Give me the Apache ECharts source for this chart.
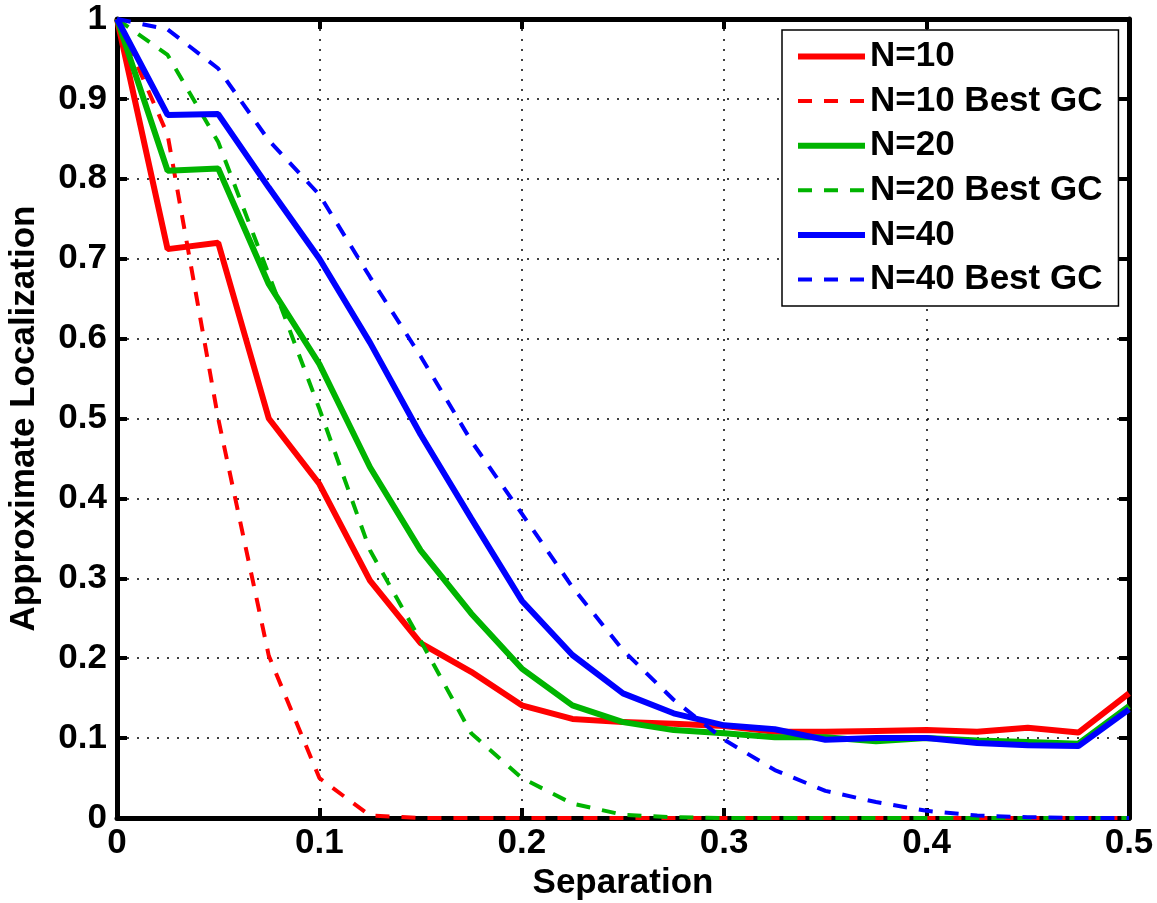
<!DOCTYPE html>
<html>
<head>
<meta charset="utf-8">
<script src="https://cdn.jsdelivr.net/npm/echarts@6/dist/echarts.min.js"></script>
<style>
html,body{margin:0;padding:0;background:#fff;}
#chart{width:1157px;height:903px;}
</style>
</head>
<body>
<div id="chart"></div>
<script>
const separation = [0, 0.025, 0.05, 0.075, 0.1, 0.125, 0.15, 0.175, 0.2, 0.225, 0.25, 0.275, 0.3, 0.325, 0.35, 0.375, 0.4, 0.425, 0.45, 0.475, 0.5];
const n10      = [1.0, 0.712, 0.72, 0.50, 0.418, 0.297, 0.219, 0.183, 0.141, 0.124, 0.120, 0.118, 0.115, 0.108, 0.108, 0.109, 0.110, 0.108, 0.113, 0.107, 0.156];
const n10Best  = [1.0, 0.855, 0.50, 0.203, 0.050, 0.003, 0, 0, 0, 0, 0, 0, 0, 0, 0, 0, 0, 0, 0, 0, 0];
const n20      = [1.0, 0.810, 0.813, 0.668, 0.568, 0.439, 0.335, 0.256, 0.187, 0.141, 0.120, 0.110, 0.106, 0.101, 0.101, 0.096, 0.100, 0.097, 0.095, 0.093, 0.140];
const n20Best  = [1.0, 0.955, 0.846, 0.680, 0.512, 0.335, 0.222, 0.106, 0.050, 0.018, 0.004, 0.001, 0, 0, 0, 0, 0, 0, 0, 0, 0];
const n40      = [1.0, 0.880, 0.881, 0.789, 0.700, 0.595, 0.480, 0.375, 0.272, 0.204, 0.156, 0.131, 0.116, 0.111, 0.098, 0.100, 0.100, 0.094, 0.091, 0.090, 0.136];
const n40Best  = [1.0, 0.987, 0.938, 0.848, 0.780, 0.677, 0.578, 0.472, 0.381, 0.289, 0.210, 0.148, 0.098, 0.060, 0.034, 0.020, 0.009, 0.003, 0.001, 0, 0];
const xTicks = [0, 0.1, 0.2, 0.3, 0.4, 0.5];
const yTicks = [0, 0.1, 0.2, 0.3, 0.4, 0.5, 0.6, 0.7, 0.8, 0.9, 1];

const names = ['N=10', 'N=10 Best GC', 'N=20', 'N=20 Best GC', 'N=40', 'N=40 Best GC'];
const values = [n10, n10Best, n20, n20Best, n40, n40Best];
const colors = ['#ff0000', '#ff0000', '#00b400', '#00b400', '#0000ff', '#0000ff'];
const dashed = [false, true, false, true, false, true];

const FONT = '"Liberation Sans", Arial, sans-serif';
const chart = echarts.init(document.getElementById('chart'), null, {renderer: 'canvas'});

const lineStyleOf = i => ({color: colors[i], width: dashed[i] ? 4 : 6, type: dashed[i] ? [14, 12] : 'solid'});

const series = names.map((nm, i) => ({
  name: nm,
  type: 'line',
  data: separation.map((x, j) => [x, values[i][j]]),
  showSymbol: false,
  symbol: 'none',
  color: colors[i],
  lineStyle: lineStyleOf(i),
  z: 3 + i,
  animation: false
}));

const gridLine = {show: true, lineStyle: {color: '#000', width: 1.5, type: [2, 8]}};
const tickStyle = {show: true, inside: true, length: 10, lineStyle: {color: '#000', width: 4}};
const axisLine = {show: true, onZero: false, lineStyle: {color: '#000', width: 5}};
const labelStyle = {color: '#000', fontFamily: FONT, fontWeight: 'bold', fontSize: 35};

chart.setOption({
  animation: false,
  backgroundColor: '#fff',
  grid: {left: 117, right: 28, top: 19, bottom: 85, containLabel: false, outerBoundsMode: 'none'},
  legend: {
    show: true,
    orient: 'vertical',
    left: 782,
    top: 30,
    padding: [9, 16, 9, 13],
    itemGap: 9.6,
    itemWidth: 67,
    itemHeight: 14,
    backgroundColor: '#fff',
    borderColor: '#000',
    borderWidth: 1.5,
    itemStyle: {opacity: 0},
    data: names.map((nm, i) => ({name: nm, itemStyle: {opacity: 0}, lineStyle: lineStyleOf(i)})),
    textStyle: {color: '#000', fontFamily: FONT, fontWeight: 'bold', fontSize: 35, lineHeight: 35}
  },
  xAxis: [{
    type: 'value', min: 0, max: 0.5, interval: 0.1,
    name: 'Separation', nameLocation: 'middle', nameGap: 47,
    nameTextStyle: labelStyle,
    axisLine: axisLine, axisTick: tickStyle,
    axisLabel: Object.assign({margin: 8, formatter: v => String(v)}, labelStyle),
    splitLine: gridLine
  }, {
    type: 'value', min: 0, max: 0.5, interval: 0.1, position: 'top',
    axisLine: axisLine, axisTick: tickStyle, axisLabel: {show: false}, splitLine: {show: false}
  }],
  yAxis: [{
    type: 'value', min: 0, max: 1, interval: 0.1,
    name: 'Approximate Localization', nameLocation: 'middle', nameGap: 75, nameRotate: 90,
    nameTextStyle: labelStyle,
    axisLine: axisLine, axisTick: tickStyle,
    axisLabel: Object.assign({margin: 10, formatter: v => String(v)}, labelStyle),
    splitLine: gridLine
  }, {
    type: 'value', min: 0, max: 1, interval: 0.1, position: 'right',
    axisLine: axisLine, axisTick: tickStyle, axisLabel: {show: false}, splitLine: {show: false}
  }],
  series: series
});
</script>
</body>
</html>
